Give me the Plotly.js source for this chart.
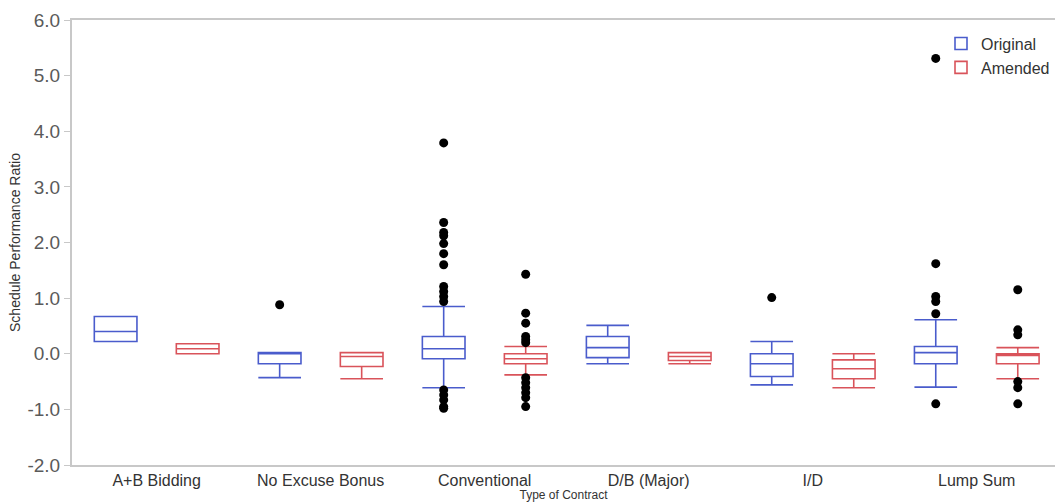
<!DOCTYPE html>
<html>
<head>
<meta charset="utf-8">
<script src="https://cdn.plot.ly/plotly-3.0.1.min.js"></script>
<style>html,body{margin:0;padding:0;background:#fff;}#chart{width:1055px;height:502px;}</style>
</head>
<body>
<div id="chart"></div>
<script>
// Categories (tick labels)
const categories = ["A+B Bidding", "No Excuse Bonus", "Conventional", "D/B (Major)", "I/D", "Lump Sum"];

// Y tick values and labels
const yTickVals = [-2, -1, 0, 1, 2, 3, 4, 5, 6];
const yTickLabels = ["-2.0", "-1.0", "0.0", "1.0", "2.0", "3.0", "4.0", "5.0", "6.0"];

// Original series box statistics
const origLower  = [0.22, -0.43, -0.61, -0.18, -0.56, -0.60];
const origQ1     = [0.22, -0.18, -0.09, -0.07, -0.41, -0.18];
const origMedian = [0.40,  0.00,  0.09,  0.11, -0.18,  0.02];
const origQ3     = [0.67,  0.02,  0.31,  0.31,  0.00,  0.13];
const origUpper  = [0.67,  0.02,  0.85,  0.51,  0.22,  0.61];
const origOutliers = [
  [],
  [0.88],
  [3.79, 2.36, 2.18, 2.12, 1.98, 1.80, 1.60, 1.21, 1.12, 1.03, 0.94, -0.65, -0.74, -0.83, -0.95, -0.98],
  [],
  [1.01],
  [5.31, 1.62, 1.03, 0.94, 0.72, -0.90]
];

// Amended series box statistics
const amendLower  = [0.00, -0.45, -0.38, -0.18, -0.61, -0.45];
const amendQ1     = [0.00, -0.23, -0.18, -0.12, -0.45, -0.18];
const amendMedian = [0.09, -0.05, -0.09, -0.05, -0.27, -0.03];
const amendQ3     = [0.18,  0.02,  0.00,  0.02, -0.11,  0.00];
const amendUpper  = [0.18,  0.02,  0.13,  0.02,  0.00,  0.11];
const amendOutliers = [
  [],
  [],
  [1.43, 0.73, 0.55, 0.31, 0.25, 0.20, -0.43, -0.52, -0.61, -0.70, -0.79, -0.95],
  [],
  [],
  [1.15, 0.43, 0.34, -0.50, -0.61, -0.90]
];

const BLUE = "#4a5ccc";
const RED = "#d9535a";
const OFFSET = 0.25;
const idx = categories.map((c, i) => i);

function boxTrace(name, color, sign, lo, q1, med, q3, hi) {
  return {
    type: "box", name: name,
    x: idx.map(i => i + sign * OFFSET),
    lowerfence: lo, q1: q1, median: med, q3: q3, upperfence: hi,
    width: 0.26, whiskerwidth: 1,
    line: {color: color, width: 1.6},
    fillcolor: "rgba(255,255,255,0)",
    hoverinfo: "skip"
  };
}
function outlierTrace(sign, outs) {
  const xs = [], ys = [];
  outs.forEach((arr, i) => arr.forEach(v => { xs.push(i + sign * OFFSET); ys.push(v); }));
  return {
    type: "scatter", mode: "markers", x: xs, y: ys, showlegend: false,
    marker: {color: "#000", size: 9}, hoverinfo: "skip"
  };
}

const data = [
  boxTrace("Original", BLUE, -1, origLower, origQ1, origMedian, origQ3, origUpper),
  boxTrace("Amended", RED, 1, amendLower, amendQ1, amendMedian, amendQ3, amendUpper),
  outlierTrace(-1, origOutliers),
  outlierTrace(1, amendOutliers)
];

const layout = {
  width: 1055, height: 502,
  margin: {l: 72, r: 0, t: 20, b: 37},
  paper_bgcolor: "#fff", plot_bgcolor: "#fff",
  font: {family: "Liberation Sans, Arial, sans-serif", color: "#333"},
  showlegend: true,
  legend: {x: 1.0, xanchor: "right", y: 0.985, yanchor: "top", bgcolor: "rgba(0,0,0,0)",
           font: {size: 16, color: "#333"}, itemwidth: 30, tracegroupgap: 0},
  xaxis: {
    range: [-0.516, 5.477], tickvals: idx, ticktext: categories,
    showgrid: false, zeroline: false, showline: true, linecolor: "#c8c8c8", linewidth: 2,
    mirror: true, ticks: "", tickfont: {size: 16, color: "#333"},
    title: {text: "Type of Contract", font: {size: 12, color: "#333"}, standoff: 0}
  },
  yaxis: {
    range: [-2, 6], tickvals: yTickVals, ticktext: yTickLabels,
    showgrid: false, zeroline: false, showline: true, linecolor: "#c8c8c8", linewidth: 2,
    ticks: "outside", ticklen: 6, tickcolor: "#c8c8c8",
    tickfont: {size: 19, color: "#5a5a5a"},
    title: {text: "Schedule Performance Ratio", font: {size: 14, color: "#333"}, standoff: 4}
  }
};

Plotly.newPlot("chart", data, layout, {staticPlot: true, displayModeBar: false});
</script>
</body>
</html>
